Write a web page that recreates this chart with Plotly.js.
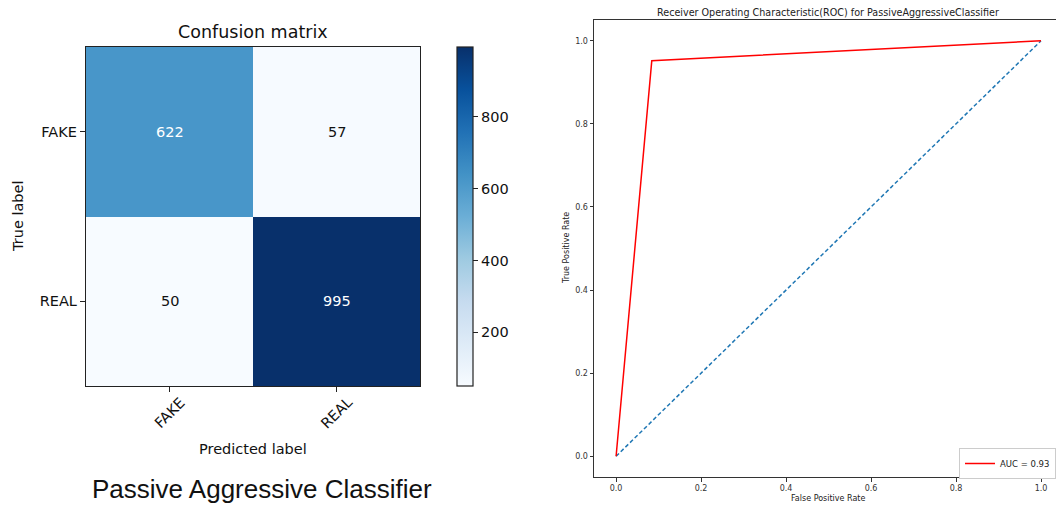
<!DOCTYPE html>
<html>
<head>
<meta charset="utf-8">
<script src="https://cdn.plot.ly/plotly-3.0.1.min.js"></script>
<style>html,body{margin:0;padding:0;background:#fff;overflow:hidden;width:1056px;height:505px;}#chart{width:1056px;height:505px;overflow:hidden;}</style>
</head>
<body>
<div id="chart"></div>
<script>
// ---- Data ----
const classes = ['FAKE', 'REAL'];
const cmValues = [[622, 57], [50, 995]];
const cbTicks = [200, 400, 600, 800];
const fpr = [0, 0.084, 1];
const tpr = [0, 0.952, 1];
const chanceX = [0, 1];
const chanceY = [0, 1];
const aucLabel = 'AUC = 0.93';
const rocTicks = [0, 0.2, 0.4, 0.6, 0.8, 1.0];
const rocTickText = ['0.0', '0.2', '0.4', '0.6', '0.8', '1.0'];

// matplotlib "Blues"
const blues = [
  [0, '#f7fbff'], [0.125, '#deebf7'], [0.25, '#c6dbef'], [0.375, '#9ecae1'],
  [0.5, '#6baed6'], [0.625, '#4292c6'], [0.75, '#2171b5'], [0.875, '#08519c'], [1, '#08306b']
];

const W = 1056, H = 505;
const px = v => v / W;
const py = v => (H - v) / H;
const MPL = 'DejaVu Sans, sans-serif';

const flat = cmValues.flat();
const zmin = Math.min(...flat), zmax = Math.max(...flat);
const thresh = zmax / 2;

const heat = {
  type: 'heatmap',
  x: classes, y: classes, z: cmValues,
  xaxis: 'x', yaxis: 'y',
  colorscale: blues, zmin: zmin, zmax: zmax,
  showscale: true, hoverinfo: 'skip',
  colorbar: {
    x: px(457), xanchor: 'left', xpad: 0,
    y: py(386), yanchor: 'bottom', ypad: 0,
    thickness: 16, thicknessmode: 'pixels',
    len: 339, lenmode: 'pixels',
    outlinewidth: 1.2, outlinecolor: '#222',
    tickvals: cbTicks, ticks: 'outside', ticklen: 5, tickcolor: '#222',
    tickfont: {family: MPL, size: 14.5, color: '#111'}
  }
};

const roc = {
  type: 'scatter', mode: 'lines',
  x: fpr, y: tpr, xaxis: 'x2', yaxis: 'y2',
  line: {color: '#ff0000', width: 1.5},
  name: aucLabel, showlegend: true, hoverinfo: 'skip'
};
const chance = {
  type: 'scatter', mode: 'lines',
  x: chanceX, y: chanceY, xaxis: 'x2', yaxis: 'y2',
  line: {color: '#1f77b4', width: 1.5, dash: '4px,2.5px'},
  showlegend: false, hoverinfo: 'skip'
};

function note(x, y, text, font, extra) {
  return Object.assign({xref: 'paper', yref: 'paper', x: px(x), y: py(y), text: text, showarrow: false,
    xanchor: 'center', yanchor: 'middle', font: font}, extra || {});
}

const annotations = [];
// cell values
cmValues.forEach((row, i) => row.forEach((v, j) => {
  annotations.push({
    xref: 'x', yref: 'y', x: classes[j], y: classes[i], text: String(v), showarrow: false,
    xanchor: 'center', yanchor: 'middle',
    font: {family: MPL, size: 14.5, color: v > thresh ? '#ffffff' : '#111111'}
  });
}));
// rotated x tick labels
classes.forEach(c => annotations.push({
  xref: 'x', yref: 'paper', x: c, y: py(413), text: c, showarrow: false, textangle: -45,
  xanchor: 'center', yanchor: 'middle',
  font: {family: MPL, size: 14.5, color: '#111'}
}));
annotations.push(
  note(253, 32, 'Confusion matrix', {family: MPL, size: 17.5, color: '#111'}),
  note(253, 449, 'Predicted label', {family: MPL, size: 14.5, color: '#111'}),
  note(18, 217, 'True label', {family: MPL, size: 14.5, color: '#111'}, {textangle: -90}),
  note(262, 489, 'Passive Aggressive Classifier', {family: 'Liberation Sans, Arial, sans-serif', size: 26, color: '#111'}),
  note(828, 12, 'Receiver Operating Characteristic(ROC) for PassiveAggressiveClassifier', {family: MPL, size: 9.6, color: '#222'}),
  note(828, 498, 'False Positive Rate', {family: MPL, size: 8, color: '#222'}),
  note(566, 248, 'True Positive Rate', {family: MPL, size: 8, color: '#222'}, {textangle: -90})
);

const layout = {
  width: W, height: H, autosize: false,
  margin: {l: 0, r: 0, t: 0, b: 0, pad: 0},
  paper_bgcolor: '#fff', plot_bgcolor: '#fff',
  showlegend: true,
  legend: {
    x: 1, xanchor: 'right', y: py(448), yanchor: 'top',
    bgcolor: '#fff', bordercolor: '#cccccc', borderwidth: 1,
    font: {family: MPL, size: 8.5, color: '#222'}
  },
  xaxis: {
    domain: [px(86), px(420)], anchor: 'y',
    type: 'category', categoryarray: classes,
    showticklabels: false, ticks: 'outside', ticklen: 5, tickcolor: '#222',
    showline: true, mirror: true, linecolor: '#222', linewidth: 1.2,
    showgrid: false, zeroline: false, fixedrange: true
  },
  yaxis: {
    domain: [py(386), py(47)], anchor: 'x',
    type: 'category', categoryarray: classes, autorange: 'reversed',
    ticks: 'outside', ticklen: 5, tickcolor: '#222',
    tickfont: {family: MPL, size: 14.5, color: '#111'},
    showline: true, mirror: true, linecolor: '#222', linewidth: 1.2,
    showgrid: false, zeroline: false, fixedrange: true
  },
  xaxis2: {
    domain: [px(594), 1], anchor: 'y2',
    range: [-0.052, (W - 616) / 425],
    tickvals: rocTicks, ticktext: rocTickText,
    ticks: 'outside', ticklen: 3.5, tickcolor: '#333',
    tickfont: {family: MPL, size: 8, color: '#333'},
    showline: true, mirror: true, linecolor: '#333', linewidth: 1,
    showgrid: false, zeroline: false
  },
  yaxis2: {
    domain: [py(477), py(20)], anchor: 'x2',
    range: [-0.05, 1.05],
    tickvals: rocTicks, ticktext: rocTickText,
    ticks: 'outside', ticklen: 3.5, tickcolor: '#333',
    tickfont: {family: MPL, size: 8, color: '#333'},
    showline: true, mirror: false, linecolor: '#333', linewidth: 1,
    showgrid: false, zeroline: false
  },
  annotations: annotations
};

Plotly.newPlot('chart', [heat, chance, roc], layout, {staticPlot: true, displayModeBar: false});
</script>
</body>
</html>
